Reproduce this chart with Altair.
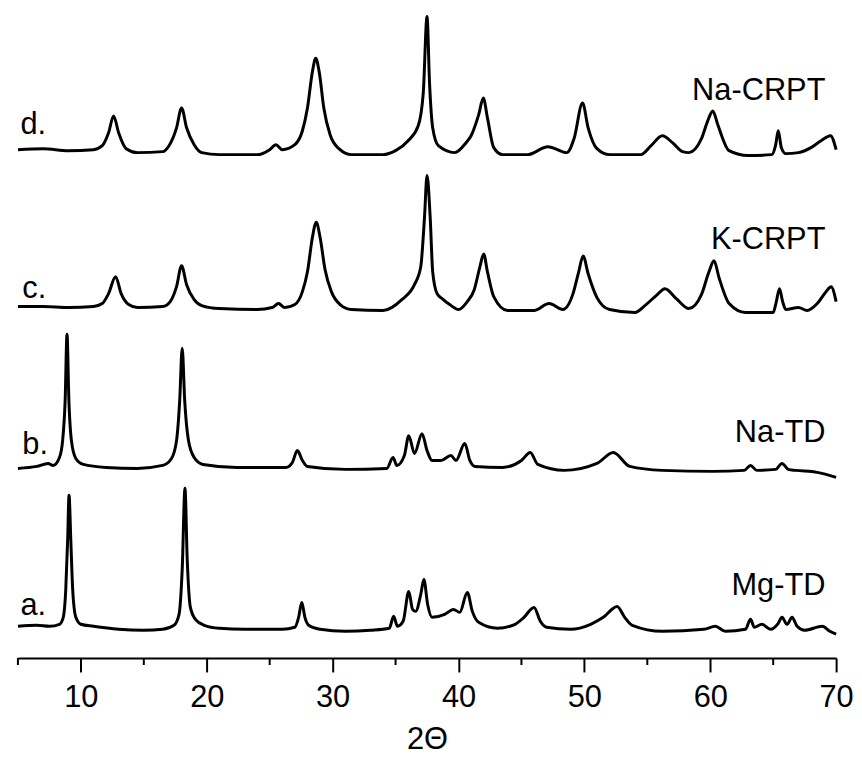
import altair as alt
import pandas as pd

# ---- data (2-theta, intensity in arbitrary stacked units) ----
mg_x = [5.0, 6.5, 7.5, 8.3, 8.6, 8.8, 8.95, 9.06, 9.2, 9.35, 9.6, 10.0, 11.0, 13.0, 15.0, 16.5,
        17.4, 17.8, 18.05, 18.27, 18.45, 18.7, 19.1, 19.8, 21.0, 23.0, 26.0, 27.0, 27.3, 27.55,
        27.8, 28.1, 29.0, 31.0, 33.0, 34.5, 34.85, 35.15, 35.6, 36.05, 36.35, 36.6, 37.0, 37.25,
        37.55, 37.9, 38.9, 39.6, 40.1, 40.7, 41.1, 41.6, 43.1, 44.5, 45.2, 46.0, 46.5, 47.0, 48.9,
        50.5, 51.5, 52.6, 53.2, 53.8, 56.2, 59.5, 60.4, 61.2, 62.8, 63.2, 63.5, 64.1, 64.8, 65.4,
        65.7, 66.1, 66.5, 66.9, 67.5, 68.9, 69.5, 70.0]
mg_y = [32, 33, 32, 34, 41, 69, 119, 164, 119, 69, 41, 34, 32, 29, 28, 29,
        33, 44, 89, 171, 99, 51, 39, 33, 30, 29, 29, 31, 41, 56,
        41, 33, 29, 27, 28, 30, 42, 32, 37, 67, 49, 47, 64, 79,
        54, 41, 44, 49, 46, 66, 47, 36, 30, 34, 41, 51, 37, 31, 29,
        34, 41, 52, 41, 33, 27, 29, 32, 27, 29, 39, 31, 34, 29, 35,
        41, 34, 41, 32, 28, 32, 27, 24]

natd_x = [5.0, 6.5, 7.4, 7.8, 8.3, 8.55, 8.75, 8.9, 9.05, 9.25, 9.6, 10.2, 12.0, 14.5, 16.5,
          17.2, 17.6, 17.85, 18.05, 18.25, 18.55, 19.0, 19.7, 22.4, 26.3, 26.8, 27.2, 27.6, 28.0,
          31.0, 34.3, 34.8, 35.1, 35.7, 36.05, 36.5, 37.1, 37.5, 37.9, 38.6, 39.4, 39.8, 40.5,
          40.9, 41.3, 43.5, 45.0, 45.7, 46.3, 48.4, 51.0, 52.3, 53.6, 56.2, 60.2, 62.7, 63.2,
          63.7, 65.2, 65.7, 66.2, 66.8, 68.5, 70.0]
natd_y = [191, 193, 196, 194, 202, 219, 259, 326, 259, 219, 201, 195, 192, 191, 194,
          201, 219, 259, 312, 259, 219, 202, 195, 192, 192, 197, 209, 199, 193,
          190, 191, 202, 194, 204, 224, 206, 226, 209, 199, 199, 204, 199, 216,
          199, 193, 192, 199, 207, 195, 189, 196, 207, 193, 189, 188, 189, 194,
          189, 190, 196, 190, 189, 187, 182]

k_x = [5.0, 7.0, 9.0, 11.0, 11.7, 12.2, 12.76, 13.2, 13.8, 14.5, 16.5, 17.1, 17.6, 18.0, 18.4,
       19.0, 19.6, 21.0, 24.0, 25.2, 25.7, 26.2, 27.0, 27.6, 28.0, 28.4, 28.7, 29.0, 29.4, 29.9,
       30.6, 31.5, 34.0, 35.5, 36.5, 37.0, 37.3, 37.5, 37.75, 37.95, 38.3, 38.7, 39.3, 40.0,
       40.7, 41.25, 41.7, 42.0, 42.3, 42.8, 43.9, 46.0, 47.2, 48.3, 49.1, 49.55, 49.9, 50.3,
       51.0, 52.0, 54.0, 54.9, 55.7, 56.4, 57.3, 58.3, 59.3, 59.9, 60.3, 60.7, 61.5, 62.8,
       65.0, 65.25, 65.5, 65.75, 66.0, 67.0, 67.7, 68.5, 69.2, 69.6, 70.0]
k_y = [354, 354, 353, 354, 357, 367, 384, 367, 356, 353, 354, 359, 374, 395, 376,
       361, 355, 352, 351, 353, 357, 353, 356, 369, 389, 424, 439, 424, 391, 369,
       356, 351, 350, 361, 376, 394, 444, 486, 444, 389, 367, 362, 356, 351,
       359, 371, 394, 407, 389, 364, 350, 350, 357, 351, 367, 389, 405, 387,
       363, 351, 348, 356, 365, 372, 362, 352, 366, 389, 400, 383, 357, 348,
       348, 359, 372, 359, 351, 353, 350, 357, 369, 374, 359]

na_x = [5.0, 7.0, 9.0, 11.0, 11.7, 12.2, 12.6, 13.0, 13.6, 14.5, 16.5, 17.0, 17.6, 18.0, 18.4,
        19.0, 19.6, 21.0, 24.0, 25.0, 25.5, 26.0, 27.0, 27.6, 28.0, 28.4, 28.66, 28.95, 29.3,
        29.8, 30.5, 31.5, 34.0, 35.0, 36.0, 36.8, 37.2, 37.5, 37.7, 37.95, 38.4, 39.7, 40.6,
        41.0, 41.6, 41.97, 42.3, 42.8, 43.5, 45.5, 47.1, 48.6, 49.2, 49.85, 50.3, 51.0, 52.0,
        54.5, 55.3, 56.2, 57.0, 57.8, 58.3, 59.3, 59.8, 60.2, 60.6, 61.5, 63.0, 64.9, 65.2,
        65.4, 65.65, 66.0, 67.0, 68.0, 68.8, 69.55, 70.0]
na_y = [512, 513, 511, 512, 516, 529, 546, 529, 513, 509, 510, 516, 534, 554, 534,
        517, 509, 507, 507, 512, 517, 512, 517, 531, 554, 591, 604, 589, 554,
        527, 513, 507, 507, 511, 521, 536, 569, 646, 579, 534, 516, 509, 519,
        526, 547, 564, 544, 514, 507, 507, 515, 509, 524, 559, 534, 513, 507,
        507, 516, 526, 519, 510, 509, 523, 541, 551, 537, 511, 506, 507, 517,
        531, 514, 508, 509, 514, 521, 526, 512]

samples = ["Mg-TD", "Na-TD", "K-CRPT", "Na-CRPT"]
letters = ["a.", "b.", "c.", "d."]

major_ticks = [10, 20, 30, 40, 50, 60, 70]
minor_ticks = [5, 15, 25, 35, 45, 55, 65]

# label anchors (data coordinates)
letter_x = [5.2, 5.35, 5.35, 5.2]
letter_y = [52, 214, 372, 537]
name_x = [69.15, 69.15, 69.15, 69.15]
name_y = [72, 227, 421, 571]

frames = []
for name, xs, ys in zip(samples, [mg_x, natd_x, k_x, na_x], [mg_y, natd_y, k_y, na_y]):
    frames.append(pd.DataFrame({"two_theta": xs, "intensity": ys, "sample": name}))
df = pd.concat(frames, ignore_index=True)

left_df = pd.DataFrame({"two_theta": letter_x, "intensity": letter_y, "label": letters})
right_df = pd.DataFrame({"two_theta": name_x, "intensity": name_y, "label": samples})
minor_df = pd.DataFrame({"two_theta": minor_ticks})

W, H = 824, 651
FONT = "Liberation Sans"
FS = 31

x_scale = alt.Scale(domain=[5, 70], nice=False, zero=False)
y_scale = alt.Scale(domain=[0, H], nice=False, zero=False)

x_axis = alt.Axis(
    values=major_ticks, title="2Θ", grid=False,
    domainColor="black", domainWidth=2, tickColor="black", tickWidth=2, tickSize=14,
    labelFont=FONT, labelFontSize=FS, labelColor="black", labelPadding=11,
    labelFlush=False, labelOverlap=False,
    titleFont=FONT, titleFontSize=FS, titleFontWeight="normal", titleColor="black",
    titlePadding=12,
)

lines = alt.Chart(df).mark_line(color="black", strokeWidth=3, interpolate="monotone").encode(
    x=alt.X("two_theta:Q", scale=x_scale, axis=x_axis),
    y=alt.Y("intensity:Q", scale=y_scale, axis=None),
    detail="sample:N",
)

minor = alt.Chart(minor_df).mark_rule(color="black", strokeWidth=2).encode(
    x=alt.X("two_theta:Q", scale=x_scale),
    y=alt.value(H),
    y2=alt.value(H + 7),
)

left_text = alt.Chart(left_df).mark_text(
    align="left", baseline="middle", font=FONT, fontSize=FS, color="black"
).encode(
    x=alt.X("two_theta:Q", scale=x_scale),
    y=alt.Y("intensity:Q", scale=y_scale),
    text="label:N",
)

right_text = alt.Chart(right_df).mark_text(
    align="right", baseline="middle", font=FONT, fontSize=FS, color="black"
).encode(
    x=alt.X("two_theta:Q", scale=x_scale),
    y=alt.Y("intensity:Q", scale=y_scale),
    text="label:N",
)

chart = alt.layer(lines, minor, left_text, right_text).properties(
    width=W, height=H,
    padding={"left": 4, "top": 0, "right": 0, "bottom": 0},
    background="white",
).configure_view(stroke=None)

chart.save("out.html", embed_options={"renderer": "svg", "actions": False})
